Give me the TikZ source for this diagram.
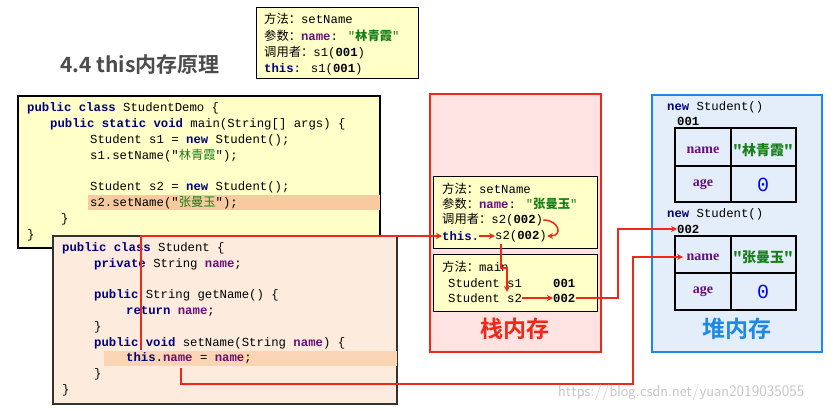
\documentclass[tikz,border=0pt]{standalone}
\usepackage{fontspec}
\setmainfont{Liberation Serif}
\newfontfamily\cjk{Noto Sans CJK SC}
\newfontfamily\cmono{Liberation Mono}
\newfontfamily\titlefont{Noto Sans CJK SC}[BoldFont={Noto Sans CJK SC Bold}]
\usetikzlibrary{arrows.meta}
\definecolor{kw}{HTML}{000080}
\definecolor{pur}{HTML}{660E7A}
\definecolor{grn}{HTML}{1A7F1A}
\definecolor{yel}{HTML}{FFFFC8}
\definecolor{peach}{HTML}{FDEBDD}
\definecolor{hl}{HTML}{F9C9A0}
\definecolor{stackbg}{HTML}{FFE3E3}
\definecolor{heapbg}{HTML}{E3EEFA}
\definecolor{rd}{HTML}{F02818}
\definecolor{bl}{HTML}{1E88E5}
\newcommand{\zh}[1]{{\cjk #1}}
\newcommand{\K}[1]{{\bfseries\color{kw}#1}}
\newcommand{\N}[1]{{\bfseries\color{pur}#1}}
\newcommand{\G}[1]{{\color{grn}#1}}
\begin{document}
\begin{tikzpicture}[x=1pt,y=-1pt,
  code/.style={anchor=west,inner sep=0pt,font=\cmono\fontsize{12.3}{14}\selectfont},
  frame/.style={draw=black,line width=1pt,fill=yel},
  arr/.style={draw=rd,line width=1.5pt,-{Stealth[length=6pt,width=6pt]}},
  cell/.style={draw=black,line width=2.2pt},
  big/.style={font=\titlefont\bfseries\fontsize{23}{26}\selectfont},
  fld/.style={text=pur,font=\bfseries\fontsize{14}{16}\selectfont}]
\useasboundingbox (0,0) rectangle (838,411);
\fill[white] (0,0) rectangle (838,411);
% title
\node[anchor=west,inner sep=0,text=black!70,font=\titlefont\bfseries\fontsize{21}{24}\selectfont] (title) at (60,65) {4.4 this内存原理};
% top box
\draw[frame] (256,8) rectangle (418,79);
\node[code] (t1) at (264,19) {\zh{方法：}setName};
\node[code] (t2) at (264,36) {\zh{参数：}\N{name}: \G{"\zh{\bfseries 林青霞}"}};
\node[code] (t3) at (264,53) {\zh{调用者：}s1(\textbf{001})};
\node[code] (t4) at (264,69) {\K{this}: s1(\textbf{001})};
% StudentDemo
\draw[frame,line width=1.5pt] (18,96) rectangle (380,248);
\fill[hl] (88,195) rectangle (380,210);
\node[code] (a1) at (27,108) {\K{public class} StudentDemo \{};
\node[code] (a2) at (50,124) {\K{public static void} main(String[] args) \{};
\node[code] (a3) at (90,140) {Student s1 = \K{new} Student();};
\node[code] (a4) at (90,156) {s1.setName("\G{\zh{林青霞}}");};
\node[code] (a5) at (90,187) {Student s2 = \K{new} Student();};
\node[code] (a6) at (90,203) {s2.setName("\G{\zh{张曼玉}}");};
\node[code] (a7) at (61,219) {\}};
\node[code] (a8) at (27,235) {\}};
% Student
\draw[draw=black!80,line width=1.2pt,fill=peach] (53,236) rectangle (397,404);
\fill[hl!80] (104,351) rectangle (397,366);
\node[code] (b1) at (62,248) {\K{public class} Student \{};
\node[code] (b2) at (94,264) {\K{private} String \N{name};};
\node[code] (b3) at (94,295) {\K{public} String getName() \{};
\node[code] (b4) at (126,311) {\K{return} \N{name};};
\node[code] (b5) at (94,327) {\}};
\node[code] (b6) at (94,343) {\K{public void} setName(String \N{name}) \{};
\node[code] (b7) at (126,358) {\K{this}.\N{name} = \N{name};};
\node[code] (b8) at (94,374) {\}};
\node[code] (b9) at (62,390) {\}};
% stack
\draw[draw=rd,line width=2.5pt,fill=stackbg] (430,94) rectangle (601,352);
\node[big,text=rd] (stk) at (515,329) {栈内存};
\draw[frame] (433,177) rectangle (597,249);
\node[code] (s1) at (442,189) {\zh{方法：}setName};
\node[code] (s2) at (442,204) {\zh{参数：}\N{name}: \G{"\zh{\bfseries 张曼玉}"}};
\node[code] (s3) at (442,220) {\zh{调用者：}s2(\textbf{002})};
\node[code] (s4) at (442,236) {\K{this}.};
\node[code] (s5) at (495,236) {s2(\textbf{002})};
\draw[frame] (433,255) rectangle (597,312);
\node[code] (m1) at (442,267) {\zh{方法：}main};
\node[code] (m2) at (448,283) {Student s1};
\node[code] (m3) at (448,298) {Student s2};
\node[code] (m4) at (553,283) {\textbf{001}};
\node[code] (m5) at (553,298) {\textbf{002}};
% heap
\draw[draw=bl,line width=2.5pt,fill=heapbg] (652,95) rectangle (822,352);
\node[big,text=bl] (hp) at (737,329) {堆内存};
\node[code] (h1) at (667,107) {\K{new} Student()};
\node[code] (h2) at (677,121) {\textbf{001}};
\draw[cell] (675,128) rectangle (796,202);
\draw[cell] (731,128) -- (731,202) (675,166) -- (796,166);
\node[fld] (n1) at (703,150) {name};
\node[text=grn,font=\cjk\bfseries\fontsize{14}{16}\selectfont] (v1) at (763,150) {"林青霞"};
\node[fld] (g1) at (703,184) {age};
\node[text=blue,font=\cmono\fontsize{20}{22}\selectfont] (z1) at (763,185) {0};
\node[code] (h3) at (667,214) {\K{new} Student()};
\node[code] (h4) at (677,229) {\textbf{002}};
\draw[cell] (675,236) rectangle (796,310);
\draw[cell] (731,236) -- (731,310) (675,273) -- (796,273);
\node[fld] (n2) at (703,257) {name};
\node[text=grn,font=\cjk\bfseries\fontsize{14}{16}\selectfont] (v2) at (763,257) {"张曼玉"};
\node[fld] (g2) at (703,291) {age};
\node[text=blue,font=\cmono\fontsize{20}{22}\selectfont] (z2) at (763,292) {0};
% arrows
\coordinate (c1) at (141,350);
\draw[arr] (c1) -- (141,236) -- (s4.west);
\draw[arr] (s4.east) -- (s5.west);
\draw[arr] (s3.east) .. controls +(16,0) and +(16,0) .. (s5.east);
\coordinate (c3) at (501,244);
\draw[arr] (c3) -- (501,268) -- (507,268) -- (507,292);
\draw[arr] (m3.east) -- (m5.west);
\draw[arr] (m5.east) -- (618,298) -- (618,229) -- (h4.west);
\coordinate (c2) at (181,368);
\draw[arr] (c2) -- (181,384) -- (633,384) -- (633,257) -- (n2.west);
% watermark
\node[anchor=west,inner sep=0,text=black!22,font=\fontsize{16}{18}\selectfont\sffamily] (wm) at (558,393) {https://blog.csdn.net/yuan2019035055};
\end{tikzpicture}
\end{document}
